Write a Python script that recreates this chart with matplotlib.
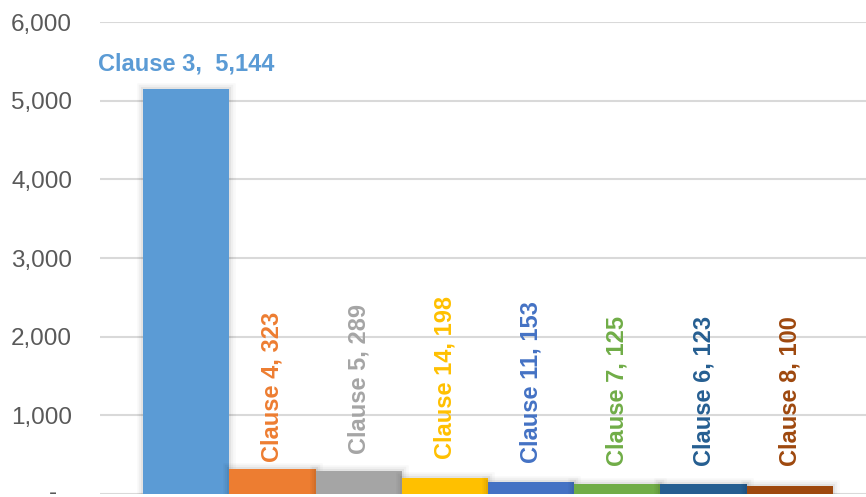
import matplotlib.pyplot as plt
import matplotlib.patheffects as pe
from matplotlib.ticker import FuncFormatter
from matplotlib.transforms import ScaledTranslation

plt.rcParams['font.family'] = ['Liberation Sans', 'DejaVu Sans']

# ===== Dati =====
clauses = ['Clause 3', 'Clause 4', 'Clause 5', 'Clause 14',
           'Clause 11', 'Clause 7', 'Clause 6', 'Clause 8']
counts = [5144, 323, 289, 198, 153, 125, 123, 100]
colors = ['#5B9BD5', '#ED7D31', '#A5A5A5', '#FFC000',
          '#4472C4', '#70AD47', '#255E91', '#9E480E']

# distanza etichetta-barra (pixel)
label_gap = [14, 7, 17, 19, 19, 18, 18, 20]

fig = plt.figure(figsize=(8.66, 4.97), dpi=100)
ax = fig.add_axes([100 / 866, 3 / 497, 776 / 866, 472 / 497])

x = range(len(clauses))
shadow = [pe.withStroke(linewidth=9, foreground='#000000', alpha=0.025),
          pe.withStroke(linewidth=6, foreground='#000000', alpha=0.035),
          pe.withStroke(linewidth=3, foreground='#000000', alpha=0.05),
          pe.Normal()]
bars = ax.bar(x, counts, width=1.0, color=colors, linewidth=0, zorder=3)
for b in bars:
    b.set_path_effects(shadow)

# etichette: la prima orizzontale, le altre verticali
for i, (name, val, col) in enumerate(zip(clauses, counts, colors)):
    if i == 0:
        ax.annotate(f'{name},  {val:,}', (i, val), xytext=(0, label_gap[i]),
                    textcoords='offset pixels', ha='center', va='bottom',
                    fontsize=17, fontweight='bold', color=col, zorder=4)
    else:
        ax.annotate(f'{name}, {val:,}', (i, val), xytext=(0, label_gap[i]),
                    textcoords='offset pixels', ha='center', va='bottom',
                    rotation=90, fontsize=17, fontweight='bold', color=col,
                    zorder=4)

ax.set_xlim(-1, 8)
ax.set_ylim(0, 6000)
ax.set_yticks(range(0, 6001, 1000))
ax.yaxis.set_major_formatter(FuncFormatter(lambda v, p: '-' if v == 0 else f'{int(v):,}'))
ax.set_xticks([])
ax.tick_params(axis='y', length=0, pad=20, labelsize=17.5, labelcolor='#595959')
ax.grid(axis='y', color='#D9D9D9', linewidth=1.5, zorder=0)
for s in ax.spines.values():
    s.set_visible(False)

# il trattino dello zero sta un po' più a sinistra
zero_lbl = ax.get_yticklabels()[0]
zero_lbl.set_transform(zero_lbl.get_transform() +
                       ScaledTranslation(-0.15, 0.03, fig.dpi_scale_trans))

fig.savefig('out.png', dpi=100)
